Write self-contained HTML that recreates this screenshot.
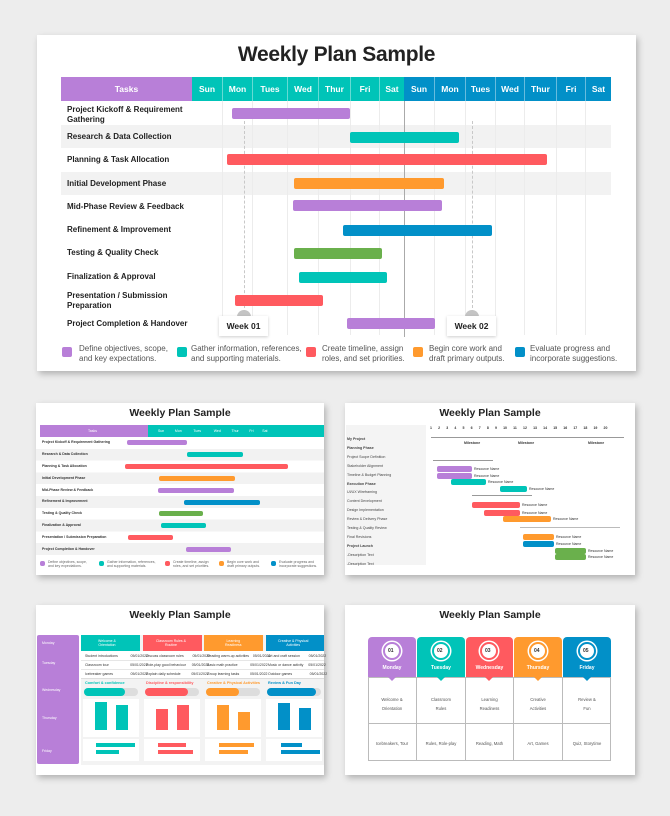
<!DOCTYPE html>
<html><head><meta charset="utf-8"><style>
*{margin:0;padding:0;box-sizing:border-box}
body{width:670px;height:816px;background:#ededed;position:relative;overflow:hidden;font-family:"Liberation Sans",sans-serif}
.a{position:absolute}
.slide{position:absolute;background:#fff;box-shadow:2px 3px 6px rgba(0,0,0,.25)}
.t{position:absolute;font-weight:bold;color:#222;text-align:center;white-space:nowrap}
.hd{position:absolute;color:#fff;font-weight:bold;font-size:8.5px;text-align:center;display:flex;align-items:center;justify-content:center}
.lbl{position:absolute;font-size:8px;font-weight:bold;color:#222;line-height:9.5px}
.bar{position:absolute;border-radius:2px}
.lg{position:absolute;font-size:8px;color:#555;line-height:9.5px}
.sq{position:absolute;width:10px;height:10px;border-radius:2px}
.s{position:absolute;font-size:3.5px;color:#333;white-space:nowrap}
</style></head><body>

<!-- MAIN SLIDE -->
<div class="slide" style="left:37px;top:35px;width:599px;height:336px"></div>
<div class="t" style="left:37px;top:43px;width:599px;font-size:21px;letter-spacing:-0.3px">Weekly Plan Sample</div>
<div class="a" style="left:61px;top:125px;width:550px;height:23.3px;background:#f2f2f2"></div>
<div class="a" style="left:61px;top:171.7px;width:550px;height:23.3px;background:#f2f2f2"></div>
<div class="a" style="left:222px;top:101px;width:1px;height:234px;background:#ececec"></div>
<div class="a" style="left:252px;top:101px;width:1px;height:234px;background:#ececec"></div>
<div class="a" style="left:287px;top:101px;width:1px;height:234px;background:#ececec"></div>
<div class="a" style="left:318px;top:101px;width:1px;height:234px;background:#ececec"></div>
<div class="a" style="left:350px;top:101px;width:1px;height:234px;background:#ececec"></div>
<div class="a" style="left:379px;top:101px;width:1px;height:234px;background:#ececec"></div>
<div class="a" style="left:434px;top:101px;width:1px;height:234px;background:#ececec"></div>
<div class="a" style="left:465px;top:101px;width:1px;height:234px;background:#ececec"></div>
<div class="a" style="left:495px;top:101px;width:1px;height:234px;background:#ececec"></div>
<div class="a" style="left:524px;top:101px;width:1px;height:234px;background:#ececec"></div>
<div class="a" style="left:556px;top:101px;width:1px;height:234px;background:#ececec"></div>
<div class="a" style="left:585px;top:101px;width:1px;height:234px;background:#ececec"></div>
<div class="hd" style="left:61px;top:77px;width:131px;height:24px;background:#b87fd8">Tasks</div>
<div class="hd" style="left:192px;top:77px;width:212px;height:24px;background:#00c4b8"></div>
<div class="hd" style="left:404px;top:77px;width:207px;height:24px;background:#0290c8"></div>
<div class="hd" style="left:192px;top:77px;width:30px;height:24px">Sun</div>
<div class="hd" style="left:222px;top:77px;width:30px;height:24px;border-left:1px solid rgba(255,255,255,.4)">Mon</div>
<div class="hd" style="left:252px;top:77px;width:35px;height:24px;border-left:1px solid rgba(255,255,255,.4)">Tues</div>
<div class="hd" style="left:287px;top:77px;width:31px;height:24px;border-left:1px solid rgba(255,255,255,.4)">Wed</div>
<div class="hd" style="left:318px;top:77px;width:32px;height:24px;border-left:1px solid rgba(255,255,255,.4)">Thur</div>
<div class="hd" style="left:350px;top:77px;width:29px;height:24px;border-left:1px solid rgba(255,255,255,.4)">Fri</div>
<div class="hd" style="left:379px;top:77px;width:25px;height:24px;border-left:1px solid rgba(255,255,255,.4)">Sat</div>
<div class="hd" style="left:404px;top:77px;width:30px;height:24px">Sun</div>
<div class="hd" style="left:434px;top:77px;width:31px;height:24px;border-left:1px solid rgba(255,255,255,.4)">Mon</div>
<div class="hd" style="left:465px;top:77px;width:30px;height:24px;border-left:1px solid rgba(255,255,255,.4)">Tues</div>
<div class="hd" style="left:495px;top:77px;width:29px;height:24px;border-left:1px solid rgba(255,255,255,.4)">Wed</div>
<div class="hd" style="left:524px;top:77px;width:32px;height:24px;border-left:1px solid rgba(255,255,255,.4)">Thur</div>
<div class="hd" style="left:556px;top:77px;width:29px;height:24px;border-left:1px solid rgba(255,255,255,.4)">Fri</div>
<div class="hd" style="left:585px;top:77px;width:26px;height:24px;border-left:1px solid rgba(255,255,255,.4)">Sat</div>
<div class="lbl" style="left:67px;top:105px">Project Kickoff &amp; Requirement<br>Gathering</div>
<div class="lbl" style="left:67px;top:132px">Research &amp; Data Collection</div>
<div class="lbl" style="left:67px;top:155px">Planning &amp; Task Allocation</div>
<div class="lbl" style="left:67px;top:179px">Initial Development Phase</div>
<div class="lbl" style="left:67px;top:202px">Mid-Phase Review &amp; Feedback</div>
<div class="lbl" style="left:67px;top:225px">Refinement &amp; Improvement</div>
<div class="lbl" style="left:67px;top:248px">Testing &amp; Quality Check</div>
<div class="lbl" style="left:67px;top:272px">Finalization &amp; Approval</div>
<div class="lbl" style="left:67px;top:291px">Presentation / Submission<br>Preparation</div>
<div class="lbl" style="left:67px;top:319px">Project Completion &amp; Handover</div>
<div class="a" style="left:403.5px;top:101px;width:1.3px;height:236px;background:#aaa"></div>
<div class="a" style="left:244px;top:121px;height:192px;border-left:1.3px dashed #c8c8c8"></div>
<div class="a" style="left:471.5px;top:121px;height:192px;border-left:1.3px dashed #c8c8c8"></div>
<div class="bar" style="left:232px;top:108px;width:118px;height:10.5px;background:#b87fd8"></div>
<div class="bar" style="left:350px;top:132px;width:109px;height:10.5px;background:#00c4b8"></div>
<div class="bar" style="left:227px;top:154px;width:320px;height:10.5px;background:#ff5a5f"></div>
<div class="bar" style="left:294px;top:178px;width:150px;height:10.5px;background:#ff9a2e"></div>
<div class="bar" style="left:293px;top:200px;width:149px;height:10.5px;background:#b87fd8"></div>
<div class="bar" style="left:343px;top:225px;width:149px;height:10.5px;background:#0290c8"></div>
<div class="bar" style="left:294px;top:248px;width:88px;height:10.5px;background:#6ab04c"></div>
<div class="bar" style="left:299px;top:272px;width:88px;height:10.5px;background:#00c4b8"></div>
<div class="bar" style="left:235px;top:295px;width:88px;height:10.5px;background:#ff5a5f"></div>
<div class="bar" style="left:347px;top:318px;width:88px;height:10.5px;background:#b87fd8"></div>
<div class="a" style="left:237px;top:310px;width:14px;height:14px;border-radius:50%;background:#c4c4c4"></div>
<div class="a" style="left:465px;top:310px;width:14px;height:14px;border-radius:50%;background:#c4c4c4"></div>
<div class="hd" style="left:219px;top:316px;width:49px;height:20px;background:#fff;color:#222;box-shadow:0 1px 3px rgba(0,0,0,.2)">Week 01</div>
<div class="hd" style="left:447px;top:316px;width:49px;height:20px;background:#fff;color:#222;box-shadow:0 1px 3px rgba(0,0,0,.2)">Week 02</div>
<div class="sq" style="left:62px;top:347px;background:#b87fd8"></div>
<div class="lg" style="left:79px;top:344px">Define objectives, scope,<br>and key expectations.</div>
<div class="sq" style="left:177px;top:347px;background:#00c4b8"></div>
<div class="lg" style="left:191px;top:344px">Gather information, references,<br>and supporting materials.</div>
<div class="sq" style="left:306px;top:347px;background:#ff5a5f"></div>
<div class="lg" style="left:322px;top:344px">Create timeline, assign<br>roles, and set priorities.</div>
<div class="sq" style="left:413px;top:347px;background:#ff9a2e"></div>
<div class="lg" style="left:429px;top:344px">Begin core work and<br>draft primary outputs.</div>
<div class="sq" style="left:515px;top:347px;background:#0290c8"></div>
<div class="lg" style="left:530px;top:344px">Evaluate progress and<br>incorporate suggestions.</div>

<!-- THUMB 1 -->
<div class="slide" style="left:36px;top:403px;width:288px;height:172px"></div>
<div class="t" style="left:36px;top:407px;width:288px;font-size:10.5px">Weekly Plan Sample</div>
<div class="a" style="left:36px;top:437px;width:288px;height:118px;background:repeating-linear-gradient(#fff 0 11.8px,#f2f2f2 11.8px 23.6px)"></div>
<div class="a" style="left:40px;top:425px;width:108px;height:12px;background:#b87fd8"></div>
<div class="a" style="left:148px;top:425px;width:176px;height:12px;background:#00c4b8"></div>
<div class="s" style="left:88px;top:429px;color:#fff">Tasks</div>
<div class="s" style="left:158px;top:429px;color:#fff">Sun&nbsp;&nbsp;&nbsp;&nbsp;&nbsp;&nbsp;&nbsp;&nbsp;&nbsp;&nbsp;&nbsp;Mon&nbsp;&nbsp;&nbsp;&nbsp;&nbsp;&nbsp;&nbsp;&nbsp;&nbsp;&nbsp;&nbsp;&nbsp;Tues&nbsp;&nbsp;&nbsp;&nbsp;&nbsp;&nbsp;&nbsp;&nbsp;&nbsp;&nbsp;&nbsp;&nbsp;&nbsp;Wed&nbsp;&nbsp;&nbsp;&nbsp;&nbsp;&nbsp;&nbsp;&nbsp;&nbsp;&nbsp;&nbsp;Thur&nbsp;&nbsp;&nbsp;&nbsp;&nbsp;&nbsp;&nbsp;&nbsp;&nbsp;&nbsp;&nbsp;Fri&nbsp;&nbsp;&nbsp;&nbsp;&nbsp;&nbsp;&nbsp;&nbsp;&nbsp;Sat</div>
<div class="s" style="left:42px;top:440px;font-weight:bold">Project Kickoff &amp; Requirement Gathering</div>
<div class="s" style="left:42px;top:452px;font-weight:bold">Research &amp; Data Collection</div>
<div class="s" style="left:42px;top:464px;font-weight:bold">Planning &amp; Task Allocation</div>
<div class="s" style="left:42px;top:476px;font-weight:bold">Initial Development Phase</div>
<div class="s" style="left:42px;top:488px;font-weight:bold">Mid-Phase Review &amp; Feedback</div>
<div class="s" style="left:42px;top:499px;font-weight:bold">Refinement &amp; Improvement</div>
<div class="s" style="left:42px;top:511px;font-weight:bold">Testing &amp; Quality Check</div>
<div class="s" style="left:42px;top:523px;font-weight:bold">Finalization &amp; Approval</div>
<div class="s" style="left:42px;top:535px;font-weight:bold">Presentation / Submission Preparation</div>
<div class="s" style="left:42px;top:547px;font-weight:bold">Project Completion &amp; Handover</div>
<div class="bar" style="left:127px;top:440px;width:60px;height:5px;background:#b87fd8"></div>
<div class="bar" style="left:187px;top:452px;width:56px;height:5px;background:#00c4b8"></div>
<div class="bar" style="left:125px;top:464px;width:163px;height:5px;background:#ff5a5f"></div>
<div class="bar" style="left:159px;top:476px;width:76px;height:5px;background:#ff9a2e"></div>
<div class="bar" style="left:158px;top:488px;width:76px;height:5px;background:#b87fd8"></div>
<div class="bar" style="left:184px;top:500px;width:76px;height:5px;background:#0290c8"></div>
<div class="bar" style="left:159px;top:511px;width:44px;height:5px;background:#6ab04c"></div>
<div class="bar" style="left:161px;top:523px;width:45px;height:5px;background:#00c4b8"></div>
<div class="bar" style="left:128px;top:535px;width:45px;height:5px;background:#ff5a5f"></div>
<div class="bar" style="left:186px;top:547px;width:45px;height:5px;background:#b87fd8"></div>
<div class="sq" style="left:40px;top:561px;width:5px;height:5px;background:#b87fd8"></div>
<div class="sq" style="left:99px;top:561px;width:5px;height:5px;background:#00c4b8"></div>
<div class="sq" style="left:165px;top:561px;width:5px;height:5px;background:#ff5a5f"></div>
<div class="sq" style="left:219px;top:561px;width:5px;height:5px;background:#ff9a2e"></div>
<div class="sq" style="left:271px;top:561px;width:5px;height:5px;background:#0290c8"></div>
<div class="s" style="left:48px;top:560px;color:#666">Define objectives, scope,<br>and key expectations.</div>
<div class="s" style="left:107px;top:560px;color:#666">Gather information, references,<br>and supporting materials.</div>
<div class="s" style="left:173px;top:560px;color:#666">Create timeline, assign<br>roles, and set priorities.</div>
<div class="s" style="left:227px;top:560px;color:#666">Begin core work and<br>draft primary outputs.</div>
<div class="s" style="left:279px;top:560px;color:#666">Evaluate progress and<br>incorporate suggestions.</div>

<!-- THUMB 2 -->
<div class="slide" style="left:345px;top:403px;width:290px;height:172px"></div>
<div class="t" style="left:345px;top:407px;width:290px;font-size:10.5px">Weekly Plan Sample</div>
<div class="a" style="left:346px;top:425px;width:80px;height:140px;background:#f4f4f4"></div>
<div class="s" style="left:430px;top:426px;font-weight:bold;word-spacing:5.2px">1 2 3 4 5 6 7 8 9 10 11 12 13 14 15 16 17 18 19 20</div>
<div class="a" style="left:347px;top:425px;width:80px;font-size:3.6px;line-height:8.9px;color:#444;padding-top:10px">
<b>My Project</b><br><b>Planning Phase</b><br>Project Scope Definition<br>Stakeholder Alignment<br>Timeline &amp; Budget Planning<br><b>Execution Phase</b><br>UI/UX Wireframing<br>Content Development<br>Design Implementation<br>Review &amp; Delivery Phase<br>Testing &amp; Quality Review<br>Final Revisions<br><b>Project Launch</b><br>-Description Text<br>-Description Text</div>
<div class="a" style="left:431px;top:437px;width:193px;height:1px;background:#999"></div>
<div class="s" style="left:464px;top:441px;font-weight:bold">Milestone</div>
<div class="s" style="left:518px;top:441px;font-weight:bold">Milestone</div>
<div class="s" style="left:588px;top:441px;font-weight:bold">Milestone</div>
<div class="a" style="left:433px;top:460px;width:60px;height:1px;background:#999"></div>
<div class="a" style="left:472px;top:495px;width:60px;height:1px;background:#999"></div>
<div class="a" style="left:520px;top:527px;width:100px;height:1px;background:#bbb"></div>
<div class="bar" style="left:437px;top:466px;width:35px;height:6px;background:#b87fd8"></div>
<div class="bar" style="left:437px;top:473px;width:35px;height:6px;background:#b87fd8"></div>
<div class="bar" style="left:451px;top:479px;width:35px;height:6px;background:#00c4b8"></div>
<div class="bar" style="left:500px;top:486px;width:27px;height:6px;background:#00c4b8"></div>
<div class="bar" style="left:472px;top:502px;width:48px;height:6px;background:#ff5a5f"></div>
<div class="bar" style="left:484px;top:510px;width:36px;height:6px;background:#ff5a5f"></div>
<div class="bar" style="left:503px;top:516px;width:48px;height:6px;background:#ff9a2e"></div>
<div class="bar" style="left:523px;top:534px;width:31px;height:6px;background:#ff9a2e"></div>
<div class="bar" style="left:523px;top:541px;width:31px;height:6px;background:#0290c8"></div>
<div class="bar" style="left:555px;top:548px;width:31px;height:6px;background:#6ab04c"></div>
<div class="bar" style="left:555px;top:554px;width:31px;height:6px;background:#6ab04c"></div>
<div class="s" style="left:474px;top:467px">Resource Name</div>
<div class="s" style="left:474px;top:474px">Resource Name</div>
<div class="s" style="left:488px;top:480px">Resource Name</div>
<div class="s" style="left:529px;top:487px">Resource Name</div>
<div class="s" style="left:522px;top:503px">Resource Name</div>
<div class="s" style="left:522px;top:511px">Resource Name</div>
<div class="s" style="left:553px;top:517px">Resource Name</div>
<div class="s" style="left:556px;top:535px">Resource Name</div>
<div class="s" style="left:556px;top:542px">Resource Name</div>
<div class="s" style="left:588px;top:549px">Resource Name</div>
<div class="s" style="left:588px;top:555px">Resource Name</div>

<!-- THUMB 3 -->
<div class="slide" style="left:36px;top:605px;width:288px;height:170px"></div>
<div class="t" style="left:36px;top:609px;width:288px;font-size:10.5px">Weekly Plan Sample</div>
<div class="a" style="left:37px;top:635px;width:42px;height:129px;background:#b87fd8;border-radius:2px"></div>
<div class="s" style="left:42px;top:641px;color:#fff">Monday</div>
<div class="s" style="left:42px;top:661px;color:#fff">Tuesday</div>
<div class="s" style="left:42px;top:688px;color:#fff">Wednesday</div>
<div class="s" style="left:42px;top:716px;color:#fff">Thursday</div>
<div class="s" style="left:42px;top:749px;color:#fff">Friday</div>
<div class="a" style="left:81px;top:635px;width:243px;height:130px;background:#f3f3f3"></div>
<div class="a" style="left:81px;top:635px;width:59px;height:16px;background:#00c4b8"></div>
<div class="a" style="left:143px;top:635px;width:59px;height:16px;background:#ff5a5f"></div>
<div class="a" style="left:204px;top:635px;width:59px;height:16px;background:#ff9a2e"></div>
<div class="a" style="left:266px;top:635px;width:58px;height:16px;background:#0290c8"></div>
<div class="s" style="left:98px;top:639px;color:#fff;text-align:center">Welcome &amp;<br>Orientation</div>
<div class="s" style="left:156px;top:639px;color:#fff;text-align:center">Classroom Rules &amp;<br>Routine</div>
<div class="s" style="left:225px;top:639px;color:#fff;text-align:center">Learning<br>Readiness</div>
<div class="s" style="left:278px;top:639px;color:#fff;text-align:center">Creative &amp; Physical<br>Activities</div>
<div class="a" style="left:81px;top:651px;width:243px;height:28px;background:#fff;border-bottom:1px solid #ddd"></div>
<div class="a" style="left:81px;top:660px;width:243px;height:1px;background:#e6e6e6"></div>
<div class="a" style="left:81px;top:669px;width:243px;height:1px;background:#e6e6e6"></div>
<div class="s" style="left:85px;top:654px">Student introductions&nbsp;&nbsp;&nbsp;&nbsp;&nbsp;&nbsp;&nbsp;&nbsp;&nbsp;&nbsp;&nbsp;&nbsp;&nbsp;05/01/2022</div>
<div class="s" style="left:85px;top:663px">Classroom tour&nbsp;&nbsp;&nbsp;&nbsp;&nbsp;&nbsp;&nbsp;&nbsp;&nbsp;&nbsp;&nbsp;&nbsp;&nbsp;&nbsp;&nbsp;&nbsp;&nbsp;&nbsp;&nbsp;&nbsp;&nbsp;&nbsp;05/01/2022</div>
<div class="s" style="left:85px;top:672px">Icebreaker games&nbsp;&nbsp;&nbsp;&nbsp;&nbsp;&nbsp;&nbsp;&nbsp;&nbsp;&nbsp;&nbsp;&nbsp;&nbsp;&nbsp;&nbsp;&nbsp;&nbsp;&nbsp;05/01/2022</div>
<div class="s" style="left:146px;top:654px">Discuss classroom rules&nbsp;&nbsp;&nbsp;&nbsp;&nbsp;&nbsp;&nbsp;&nbsp;&nbsp;05/01/2022</div>
<div class="s" style="left:146px;top:663px">Role-play good behaviour&nbsp;&nbsp;&nbsp;&nbsp;&nbsp;&nbsp;05/01/2022</div>
<div class="s" style="left:146px;top:672px">Explain daily schedule&nbsp;&nbsp;&nbsp;&nbsp;&nbsp;&nbsp;&nbsp;&nbsp;&nbsp;&nbsp;&nbsp;05/01/2022</div>
<div class="s" style="left:207px;top:654px">Reading warm-up activities&nbsp;&nbsp;&nbsp;&nbsp;05/01/2022</div>
<div class="s" style="left:207px;top:663px">Basic math practice&nbsp;&nbsp;&nbsp;&nbsp;&nbsp;&nbsp;&nbsp;&nbsp;&nbsp;&nbsp;&nbsp;&nbsp;&nbsp;05/01/2022</div>
<div class="s" style="left:207px;top:672px">Group learning tasks&nbsp;&nbsp;&nbsp;&nbsp;&nbsp;&nbsp;&nbsp;&nbsp;&nbsp;&nbsp;&nbsp;05/01/2022</div>
<div class="s" style="left:268px;top:654px">Art and craft session&nbsp;&nbsp;&nbsp;&nbsp;&nbsp;&nbsp;&nbsp;&nbsp;&nbsp;05/01/2022</div>
<div class="s" style="left:268px;top:663px">Music or dance activity&nbsp;&nbsp;&nbsp;&nbsp;&nbsp;05/01/2022</div>
<div class="s" style="left:268px;top:672px">Outdoor games&nbsp;&nbsp;&nbsp;&nbsp;&nbsp;&nbsp;&nbsp;&nbsp;&nbsp;&nbsp;&nbsp;&nbsp;&nbsp;&nbsp;&nbsp;&nbsp;&nbsp;&nbsp;05/01/2022</div>
<div class="s" style="left:85px;top:681px;color:#00c4b8;font-weight:bold;font-size:3.8px">Comfort &amp; confidence</div>
<div class="s" style="left:146px;top:681px;color:#ff5a5f;font-weight:bold;font-size:3.8px">Discipline &amp; responsibility</div>
<div class="s" style="left:207px;top:681px;color:#ff9a2e;font-weight:bold;font-size:3.8px">Creative &amp; Physical Activities</div>
<div class="s" style="left:268px;top:681px;color:#0290c8;font-weight:bold;font-size:3.8px">Review &amp; Fun Day</div>
<div class="bar" style="left:84px;top:688px;width:54px;height:8px;border-radius:4px;background:#ddd"></div>
<div class="bar" style="left:145px;top:688px;width:54px;height:8px;border-radius:4px;background:#ddd"></div>
<div class="bar" style="left:206px;top:688px;width:54px;height:8px;border-radius:4px;background:#ddd"></div>
<div class="bar" style="left:267px;top:688px;width:54px;height:8px;border-radius:4px;background:#ddd"></div>
<div class="bar" style="left:84px;top:688px;width:41px;height:8px;border-radius:4px;background:#00c4b8"></div>
<div class="bar" style="left:145px;top:688px;width:43px;height:8px;border-radius:4px;background:#ff5a5f"></div>
<div class="bar" style="left:206px;top:688px;width:33px;height:8px;border-radius:4px;background:#ff9a2e"></div>
<div class="bar" style="left:267px;top:688px;width:49px;height:8px;border-radius:4px;background:#0290c8"></div>
<div class="a" style="left:83px;top:699px;width:56px;height:38px;background:#fff"></div>
<div class="a" style="left:144px;top:699px;width:56px;height:38px;background:#fff"></div>
<div class="a" style="left:205px;top:699px;width:56px;height:38px;background:#fff"></div>
<div class="a" style="left:266px;top:699px;width:56px;height:38px;background:#fff"></div>
<div class="a" style="left:95px;top:702px;width:12px;height:28px;background:#00c4b8"></div>
<div class="a" style="left:116px;top:705px;width:12px;height:25px;background:#00c4b8"></div>
<div class="a" style="left:156px;top:709px;width:12px;height:21px;background:#ff5a5f"></div>
<div class="a" style="left:177px;top:705px;width:12px;height:25px;background:#ff5a5f"></div>
<div class="a" style="left:217px;top:705px;width:12px;height:25px;background:#ff9a2e"></div>
<div class="a" style="left:238px;top:712px;width:12px;height:18px;background:#ff9a2e"></div>
<div class="a" style="left:278px;top:703px;width:12px;height:27px;background:#0290c8"></div>
<div class="a" style="left:299px;top:708px;width:12px;height:22px;background:#0290c8"></div>
<div class="a" style="left:83px;top:739px;width:56px;height:22px;background:#fff"></div>
<div class="a" style="left:144px;top:739px;width:56px;height:22px;background:#fff"></div>
<div class="a" style="left:205px;top:739px;width:56px;height:22px;background:#fff"></div>
<div class="a" style="left:266px;top:739px;width:56px;height:22px;background:#fff"></div>
<div class="a" style="left:96px;top:743px;width:39px;height:4px;background:#00c4b8"></div>
<div class="a" style="left:96px;top:750px;width:23px;height:4px;background:#00c4b8"></div>
<div class="a" style="left:158px;top:743px;width:28px;height:4px;background:#ff5a5f"></div>
<div class="a" style="left:158px;top:750px;width:35px;height:4px;background:#ff5a5f"></div>
<div class="a" style="left:219px;top:743px;width:35px;height:4px;background:#ff9a2e"></div>
<div class="a" style="left:219px;top:750px;width:29px;height:4px;background:#ff9a2e"></div>
<div class="a" style="left:281px;top:743px;width:21px;height:4px;background:#0290c8"></div>
<div class="a" style="left:281px;top:750px;width:39px;height:4px;background:#0290c8"></div>

<!-- THUMB 4 -->
<div class="slide" style="left:345px;top:605px;width:290px;height:170px"></div>
<div class="t" style="left:345px;top:609px;width:290px;font-size:10.5px">Weekly Plan Sample</div>
<div class="a" style="left:368px;top:677px;width:243px;height:84px;border:1px solid #bbb;background:#fff"></div>
<div class="a" style="left:368px;top:723px;width:243px;height:1px;background:#bbb"></div>
<div class="a" style="left:416px;top:677px;width:1px;height:84px;background:#bbb"></div>
<div class="a" style="left:465px;top:677px;width:1px;height:84px;background:#bbb"></div>
<div class="a" style="left:513px;top:677px;width:1px;height:84px;background:#bbb"></div>
<div class="a" style="left:562px;top:677px;width:1px;height:84px;background:#bbb"></div>
<div class="a" style="left:368px;top:637px;width:48px;height:40px;background:#b87fd8;border-radius:4px 4px 0 0"></div>
<div class="a" style="left:417px;top:637px;width:48px;height:40px;background:#00c4b8;border-radius:4px 4px 0 0"></div>
<div class="a" style="left:466px;top:637px;width:47px;height:40px;background:#ff5a5f;border-radius:4px 4px 0 0"></div>
<div class="a" style="left:514px;top:637px;width:48px;height:40px;background:#ff9a2e;border-radius:4px 4px 0 0"></div>
<div class="a" style="left:563px;top:637px;width:48px;height:40px;background:#0290c8;border-radius:4px 4px 0 0"></div>
<div class="a" style="left:388px;top:677px;border-left:4px solid transparent;border-right:4px solid transparent;border-top:4px solid #b87fd8"></div>
<div class="a" style="left:437px;top:677px;border-left:4px solid transparent;border-right:4px solid transparent;border-top:4px solid #00c4b8"></div>
<div class="a" style="left:485px;top:677px;border-left:4px solid transparent;border-right:4px solid transparent;border-top:4px solid #ff5a5f"></div>
<div class="a" style="left:534px;top:677px;border-left:4px solid transparent;border-right:4px solid transparent;border-top:4px solid #ff9a2e"></div>
<div class="a" style="left:583px;top:677px;border-left:4px solid transparent;border-right:4px solid transparent;border-top:4px solid #0290c8"></div>
<div class="a" style="left:383px;top:642px;width:18px;height:18px;border-radius:50%;background:#fff;border:2px solid #b87fd8;box-shadow:0 0 0 1.5px #fff"></div>
<div class="a" style="left:432px;top:642px;width:18px;height:18px;border-radius:50%;background:#fff;border:2px solid #00c4b8;box-shadow:0 0 0 1.5px #fff"></div>
<div class="a" style="left:480px;top:642px;width:18px;height:18px;border-radius:50%;background:#fff;border:2px solid #ff5a5f;box-shadow:0 0 0 1.5px #fff"></div>
<div class="a" style="left:529px;top:642px;width:18px;height:18px;border-radius:50%;background:#fff;border:2px solid #ff9a2e;box-shadow:0 0 0 1.5px #fff"></div>
<div class="a" style="left:578px;top:642px;width:18px;height:18px;border-radius:50%;background:#fff;border:2px solid #0290c8;box-shadow:0 0 0 1.5px #fff"></div>
<div class="s" style="left:388px;top:648px;font-size:5px;font-weight:bold">01</div>
<div class="s" style="left:437px;top:648px;font-size:5px;font-weight:bold">02</div>
<div class="s" style="left:485px;top:648px;font-size:5px;font-weight:bold">03</div>
<div class="s" style="left:534px;top:648px;font-size:5px;font-weight:bold">04</div>
<div class="s" style="left:583px;top:648px;font-size:5px;font-weight:bold">05</div>
<div class="t" style="left:368px;top:665px;width:48px;font-size:5px;color:#fff">Monday</div>
<div class="t" style="left:417px;top:665px;width:48px;font-size:5px;color:#fff">Tuesday</div>
<div class="t" style="left:466px;top:665px;width:47px;font-size:5px;color:#fff">Wednesday</div>
<div class="t" style="left:514px;top:665px;width:48px;font-size:5px;color:#fff">Thursday</div>
<div class="t" style="left:563px;top:665px;width:48px;font-size:5px;color:#fff">Friday</div>
<div class="t" style="left:368px;top:695px;width:48px;font-size:4.2px;font-weight:normal;color:#555;line-height:9px">Welcome &amp;<br>Orientation</div>
<div class="t" style="left:417px;top:695px;width:48px;font-size:4.2px;font-weight:normal;color:#555;line-height:9px">Classroom<br>Rules</div>
<div class="t" style="left:466px;top:695px;width:47px;font-size:4.2px;font-weight:normal;color:#555;line-height:9px">Learning<br>Readiness</div>
<div class="t" style="left:514px;top:695px;width:48px;font-size:4.2px;font-weight:normal;color:#555;line-height:9px">Creative<br>Activities</div>
<div class="t" style="left:563px;top:695px;width:48px;font-size:4.2px;font-weight:normal;color:#555;line-height:9px">Review &amp;<br>Fun</div>
<div class="t" style="left:368px;top:741px;width:48px;font-size:4.2px;font-weight:normal;color:#555">Icebreakers, Tour</div>
<div class="t" style="left:417px;top:741px;width:48px;font-size:4.2px;font-weight:normal;color:#555">Rules, Role-play</div>
<div class="t" style="left:466px;top:741px;width:47px;font-size:4.2px;font-weight:normal;color:#555">Reading, Math</div>
<div class="t" style="left:514px;top:741px;width:48px;font-size:4.2px;font-weight:normal;color:#555">Art, Games</div>
<div class="t" style="left:563px;top:741px;width:48px;font-size:4.2px;font-weight:normal;color:#555">Quiz, Storytime</div>
</body></html>
